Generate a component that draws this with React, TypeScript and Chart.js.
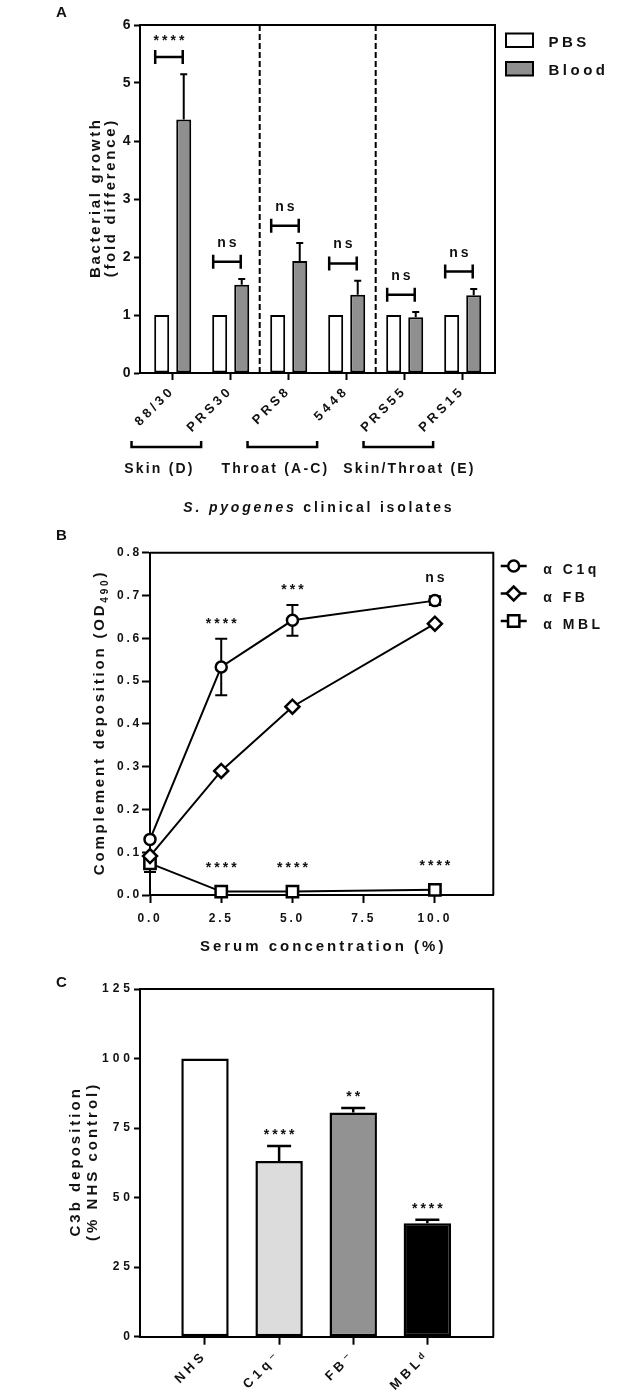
import React, { useEffect, useRef } from "react";
import { Chart, registerables } from "chart.js";

Chart.register(...registerables);

const FAMILY = "'Liberation Sans', Arial, Helvetica, 'DejaVu Sans', sans-serif";

// ---------------- Panel A data ----------------
const A_ISOLATES = ["88/30", "PRS30", "PRS8", "5448", "PRS55", "PRS15"];
const A_SERIES = ["PBS", "Blood"];
const A_PBS = [1, 1, 1, 1, 1, 1];
const A_BLOOD = [4.37, 1.52, 1.93, 1.35, 0.96, 1.34];
const A_BLOOD_SEM = [0.78, 0.1, 0.31, 0.24, 0.09, 0.11];
const A_SIGNIF = ["****", "ns", "ns", "ns", "ns", "ns"];
const A_GROUPS = ["Skin (D)", "Throat (A-C)", "Skin/Throat (E)"];
const A_Y_TICKS = [0, 1, 2, 3, 4, 5, 6];
const A_X_TITLE_ITALIC = "S. pyogenes";
const A_X_TITLE_REST = " clinical isolates";

// ---------------- Panel B data ----------------
const B_SERUM = [0, 2.5, 5, 10];
const B_SERIES = ["α C1q", "α FB", "α MBL"];
const B_C1Q = [0.13, 0.533, 0.642, 0.688];
const B_C1Q_SD = [0.005, 0.066, 0.036, 0.01];
const B_FB = [0.091, 0.29, 0.44, 0.634];
const B_MBL = [0.074, 0.008, 0.008, 0.012];
const B_MBL_SD = [0.02, 0.002, 0.002, 0.002];
const B_SIGNIF_C1Q = ["", "****", "***", "ns"];
const B_SIGNIF_MBL = ["", "****", "****", "****"];
const B_X_TICKS = [0, 2.5, 5, 7.5, 10];
const B_Y_TICKS = [0, 0.1, 0.2, 0.3, 0.4, 0.5, 0.6, 0.7, 0.8];

// ---------------- Panel C data ----------------
const C_SERA = ["NHS", "C1q⁻", "FB⁻", "MBLᵈ"];
const C_C3B = [100, 63.2, 80.6, 40.8];
const C_SEM = [0, 5.4, 1.6, 1.2];
const C_SIGNIF = ["", "****", "**", "****"];
const C_COLORS = ["#ffffff", "#dcdcdc", "#929292", "#000000"];
const C_Y_TICKS = [0, 25, 50, 75, 100, 125];

// ---------------- helpers ----------------
const INK = "#111111";
function font(size: number, italic = false) {
  return `${italic ? "italic " : ""}bold ${size}px ${FAMILY}`;
}
type Run = { t: string; size: number; italic?: boolean; dy?: number };

function drawRuns(ctx: any, runs: Run[], x: number, y: number, align: "left" | "center" | "right", spacing: number) {
  ctx.save();
  ctx.letterSpacing = `${spacing}px`;
  ctx.fillStyle = INK;
  ctx.textAlign = "left";
  ctx.textBaseline = "alphabetic";
  const widths = runs.map((r) => {
    ctx.font = font(r.size, r.italic);
    return ctx.measureText(r.t).width;
  });
  const total = widths.reduce((a, b) => a + b, 0) - spacing;
  let cx = align === "center" ? x - total / 2 : align === "right" ? x - total : x;
  runs.forEach((r, i) => {
    ctx.font = font(r.size, r.italic);
    ctx.fillText(r.t, cx, y + (r.dy || 0));
    cx += widths[i];
  });
  ctx.restore();
}

function drawCentered(ctx: any, text: string, x: number, cy: number, size: number, spacing: number) {
  if (!text) return;
  ctx.save();
  ctx.font = font(size);
  const m = ctx.measureText(text);
  const base = cy + (m.actualBoundingBoxAscent - m.actualBoundingBoxDescent) / 2;
  ctx.restore();
  drawRuns(ctx, [{ t: text, size }], x, base, "center", spacing);
}

function drawRotated(ctx: any, runs: Run[], baselineX: number, centerY: number, spacing: number) {
  ctx.save();
  ctx.translate(baselineX, centerY);
  ctx.rotate(-Math.PI / 2);
  drawRuns(ctx, runs, 0, 0, "center", spacing);
  ctx.restore();
}

function drawBox(ctx: any, ca: any) {
  ctx.save();
  ctx.strokeStyle = "#000";
  ctx.lineWidth = 2;
  ctx.beginPath();
  ctx.moveTo(ca.left, ca.top);
  ctx.lineTo(ca.right, ca.top);
  ctx.lineTo(ca.right, ca.bottom);
  ctx.stroke();
  ctx.restore();
}

function spacingPlugin(px: number) {
  return {
    id: "spacing",
    beforeLayout(chart: any) {
      chart.ctx.letterSpacing = `${px}px`;
    },
    beforeDraw(chart: any) {
      chart.ctx.letterSpacing = `${px}px`;
    },
  };
}

function axisCommon(fontSize: number, tickLength: number, padding: number) {
  return {
    offset: false,
    grid: { display: true, offset: false, drawOnChartArea: false, drawTicks: true, tickLength, tickWidth: 2, tickColor: "#000", color: "#000" },
    border: { display: true, width: 2, color: "#000" },
    ticks: { font: { family: FAMILY, size: fontSize, weight: "bold" }, color: INK, padding },
  };
}

// ---------------- Panel A ----------------
function buildA(): any {
  const plugin = {
    id: "panelA",
    beforeDatasetsDraw(chart: any) {
      const { ctx, chartArea: ca, scales } = chart;
      drawBox(ctx, ca);
      ctx.save();
      ctx.strokeStyle = "#000";
      ctx.lineWidth = 2;
      ctx.setLineDash([6, 3]);
      for (let g = 1; g < A_GROUPS.length; g++) {
        const px = scales.x.getPixelForValue(2 * g - 0.5);
        ctx.beginPath();
        ctx.moveTo(px, ca.top);
        ctx.lineTo(px, ca.bottom);
        ctx.stroke();
      }
      ctx.restore();
    },
    afterDatasetsDraw(chart: any) {
      const { ctx, scales } = chart;
      const y = scales.y;
      const m0 = chart.getDatasetMeta(0);
      const m1 = chart.getDatasetMeta(1);
      ctx.save();
      ctx.strokeStyle = "#000";
      A_BLOOD.forEach((v, i) => {
        const bar = m1.data[i];
        const pbs = m0.data[i];
        const top = y.getPixelForValue(v + A_BLOOD_SEM[i]);
        ctx.lineWidth = 2;
        ctx.beginPath();
        ctx.moveTo(bar.x, bar.y);
        ctx.lineTo(bar.x, top);
        ctx.moveTo(bar.x - 3.5, top);
        ctx.lineTo(bar.x + 3.5, top);
        ctx.stroke();
        const by = y.getPixelForValue(v + A_BLOOD_SEM[i] + 0.3);
        const bl = pbs.x - pbs.width / 2 + 1;
        const br = bar.x - 1;
        ctx.lineWidth = 2.5;
        ctx.beginPath();
        ctx.moveTo(bl, by);
        ctx.lineTo(br, by);
        ctx.moveTo(bl, by - 7);
        ctx.lineTo(bl, by + 7);
        ctx.moveTo(br, by - 7);
        ctx.lineTo(br, by + 7);
        ctx.stroke();
        drawCentered(ctx, A_SIGNIF[i], (bl + br) / 2, by - 19, 14, 3);
      });
      ctx.restore();
    },
    afterDraw(chart: any) {
      const { ctx, chartArea: ca, scales } = chart;
      const x = scales.x;
      const cy = (ca.top + ca.bottom) / 2;
      // y title
      drawRotated(ctx, [{ t: "Bacterial growth", size: 15 }], ca.left - 40, cy, 2.7);
      drawRotated(ctx, [{ t: "(fold difference)", size: 15 }], ca.left - 25.5, cy, 2.7);
      // group brackets
      const shifts = [-8, -8, 10];
      ctx.save();
      ctx.strokeStyle = "#000";
      ctx.lineWidth = 2.5;
      A_GROUPS.forEach((g, k) => {
        const l = x.getPixelForValue(2 * k - 0.71);
        const r = x.getPixelForValue(2 * k + 1 - 0.51);
        const by = ca.bottom + 74;
        ctx.beginPath();
        ctx.moveTo(l, by - 6);
        ctx.lineTo(l, by);
        ctx.lineTo(r, by);
        ctx.lineTo(r, by - 6);
        ctx.stroke();
        drawRuns(ctx, [{ t: g, size: 14 }], (l + r) / 2 + shifts[k], ca.bottom + 100, "center", 2.2);
      });
      ctx.restore();
      // x title
      drawRuns(
        ctx,
        [
          { t: A_X_TITLE_ITALIC, size: 14, italic: true },
          { t: A_X_TITLE_REST, size: 14 },
        ],
        (ca.left + ca.right) / 2,
        ca.bottom + 138.5,
        "center",
        2.8
      );
      // legend
      const colors = ["#ffffff", "#8f8f8f"];
      ctx.save();
      A_SERIES.forEach((s, i) => {
        const top = ca.top + 8.5 + i * 28.5;
        ctx.fillStyle = colors[i];
        ctx.strokeStyle = "#000";
        ctx.lineWidth = 2;
        ctx.fillRect(ca.right + 11, top, 27, 13.5);
        ctx.strokeRect(ca.right + 11, top, 27, 13.5);
        drawRuns(ctx, [{ t: s, size: 15 }], ca.right + 53.5, top + 13, "left", 3.5);
      });
      ctx.restore();
      // panel letter
      drawRuns(ctx, [{ t: "A", size: 15 }], 56, 17, "left", 0);
    },
  };
  const ax = axisCommon(13, 7, 3);
  const ay = axisCommon(14, 6, 0);
  return {
    type: "bar",
    data: {
      datasets: [
        {
          label: A_SERIES[0],
          data: A_PBS.map((v, i) => ({ x: i, y: v })),
          backgroundColor: "#ffffff",
          borderColor: "#000",
          borderWidth: 2,
          borderSkipped: false,
          categoryPercentage: 0.76,
          barPercentage: 0.68,
        },
        {
          label: A_SERIES[1],
          data: A_BLOOD.map((v, i) => ({ x: i, y: v })),
          backgroundColor: "#8f8f8f",
          borderColor: "#000",
          borderWidth: 2,
          borderSkipped: false,
          categoryPercentage: 0.76,
          barPercentage: 0.68,
        },
      ],
    },
    options: {
      responsive: false,
      animation: false,
      events: [],
      layout: { padding: { left: 0, top: 25, right: 149, bottom: 0 } },
      plugins: { legend: { display: false }, tooltip: { enabled: false } },
      scales: {
        x: {
          ...ax,
          type: "linear",
          min: -0.564,
          max: 5.557,
          afterBuildTicks: (s: any) => {
            s.ticks = A_ISOLATES.map((_, i) => ({ value: i }));
          },
          ticks: { ...ax.ticks, minRotation: 45, maxRotation: 45, autoSkip: false, callback: (v: any) => A_ISOLATES[v] ?? "" },
          afterFit: (s: any) => {
            s.height = 147;
          },
        },
        y: {
          ...ay,
          min: 0,
          max: 6,
          afterBuildTicks: (s: any) => {
            s.ticks = A_Y_TICKS.map((v) => ({ value: v }));
          },
          ticks: { ...ay.ticks, callback: (v: any) => String(v) },
          afterFit: (s: any) => {
            s.width = 140;
          },
        },
      },
    },
    plugins: [spacingPlugin(3.5), plugin],
  };
}

// ---------------- Panel B ----------------
function drawMarker(ctx: any, style: string, x: number, y: number, r: number) {
  ctx.beginPath();
  if (style === "circle") {
    ctx.arc(x, y, r, 0, Math.PI * 2);
  } else if (style === "rectRot") {
    ctx.moveTo(x - r, y);
    ctx.lineTo(x, y - r);
    ctx.lineTo(x + r, y);
    ctx.lineTo(x, y + r);
    ctx.closePath();
  } else {
    const h = r * Math.SQRT1_2;
    ctx.rect(x - h, y - h, 2 * h, 2 * h);
  }
  ctx.fill();
  ctx.stroke();
}

function buildB(): any {
  const styles = ["circle", "rectRot", "rect"];
  const radii = [5.5, 7, 8];
  const values = [B_C1Q, B_FB, B_MBL];
  const plugin = {
    id: "panelB",
    beforeDatasetsDraw(chart: any) {
      const { ctx, chartArea: ca, scales } = chart;
      drawBox(ctx, ca);
      const y = scales.y;
      ctx.save();
      ctx.strokeStyle = "#000";
      ctx.lineWidth = 2;
      const errs: [number[], number[], number][] = [
        [B_C1Q, B_C1Q_SD, 0],
        [B_MBL, B_MBL_SD, 2],
      ];
      errs.forEach(([vals, sd, di]) => {
        const meta = chart.getDatasetMeta(di);
        vals.forEach((v, i) => {
          const p = meta.data[i];
          const t = y.getPixelForValue(v + sd[i]);
          const b = y.getPixelForValue(v - sd[i]);
          ctx.beginPath();
          ctx.moveTo(p.x, t);
          ctx.lineTo(p.x, b);
          ctx.moveTo(p.x - 6, t);
          ctx.lineTo(p.x + 6, t);
          ctx.moveTo(p.x - 6, b);
          ctx.lineTo(p.x + 6, b);
          ctx.stroke();
        });
      });
      ctx.restore();
    },
    afterDraw(chart: any) {
      const { ctx, chartArea: ca, scales } = chart;
      const x = scales.x;
      const y = scales.y;
      // significance
      B_SERUM.forEach((c, i) => {
        const px = x.getPixelForValue(c);
        drawCentered(ctx, B_SIGNIF_C1Q[i], px, y.getPixelForValue(B_C1Q[i] + B_C1Q_SD[i]) - 18, 14, 3);
        drawCentered(ctx, B_SIGNIF_MBL[i], px, y.getPixelForValue(B_MBL[i]) - 27, 14, 3);
      });
      const cy = (ca.top + ca.bottom) / 2;
      drawRotated(
        ctx,
        [
          { t: "Complement deposition (OD", size: 15 },
          { t: "490", size: 10, dy: 4 },
          { t: ")", size: 15 },
        ],
        ca.left - 46.5,
        cy,
        2.8
      );
      drawRuns(ctx, [{ t: "Serum concentration (%)", size: 15 }], (ca.left + ca.right) / 2, ca.bottom + 56, "center", 3);
      // legend
      ctx.save();
      B_SERIES.forEach((s, i) => {
        const my = ca.top + 13.3 + i * 27.5;
        ctx.strokeStyle = "#000";
        ctx.lineWidth = 2.5;
        ctx.beginPath();
        ctx.moveTo(ca.right + 7.4, my);
        ctx.lineTo(ca.right + 33.4, my);
        ctx.stroke();
        ctx.fillStyle = "#fff";
        drawMarker(ctx, styles[i], ca.right + 20.4, my, radii[i]);
        drawRuns(ctx, [{ t: s, size: 14 }], ca.right + 50, my + 8, "left", 3.5);
      });
      ctx.restore();
      drawRuns(ctx, [{ t: "B", size: 15 }], 56, 20, "left", 0);
    },
  };
  const ax = axisCommon(12, 8, 8);
  const ay = axisCommon(12, 8, 0);
  return {
    type: "line",
    data: {
      datasets: B_SERIES.map((s, k) => ({
        label: s,
        data: B_SERUM.map((c, i) => ({ x: c, y: values[k][i] })),
        borderColor: "#000",
        borderWidth: 2,
        fill: false,
        tension: 0,
        clip: false,
        pointStyle: styles[k],
        pointRadius: radii[k],
        pointBorderWidth: 2.5,
        pointBackgroundColor: "#fff",
        pointBorderColor: "#000",
      })),
    },
    options: {
      responsive: false,
      animation: false,
      events: [],
      layout: { padding: { left: 0, top: 32.7, right: 150.7, bottom: 0 } },
      plugins: { legend: { display: false }, tooltip: { enabled: false } },
      scales: {
        x: {
          ...ax,
          type: "linear",
          min: 0,
          max: 12.05,
          afterBuildTicks: (s: any) => {
            s.ticks = B_X_TICKS.map((v) => ({ value: v }));
          },
          ticks: { ...ax.ticks, maxRotation: 0, autoSkip: false, callback: (v: any) => Number(v).toFixed(1) },
          afterFit: (s: any) => {
            s.height = 70;
          },
        },
        y: {
          ...ay,
          min: 0,
          max: 0.8,
          afterBuildTicks: (s: any) => {
            s.ticks = B_Y_TICKS.map((v) => ({ value: v }));
          },
          ticks: { ...ay.ticks, callback: (v: any) => Number(v).toFixed(1) },
          afterFit: (s: any) => {
            s.width = 150;
          },
        },
      },
    },
    plugins: [spacingPlugin(2.8), plugin],
  };
}

// ---------------- Panel C ----------------
function buildC(): any {
  const plugin = {
    id: "panelC",
    beforeDatasetsDraw(chart: any) {
      drawBox(chart.ctx, chart.chartArea);
    },
    afterDatasetsDraw(chart: any) {
      const { ctx, scales } = chart;
      const y = scales.y;
      const meta = chart.getDatasetMeta(0);
      ctx.save();
      ctx.strokeStyle = "#000";
      ctx.lineWidth = 2.5;
      C_C3B.forEach((v, i) => {
        const bar = meta.data[i];
        const t = y.getPixelForValue(v + C_SEM[i]);
        if (C_SEM[i] > 0) {
          ctx.beginPath();
          ctx.moveTo(bar.x, bar.y);
          ctx.lineTo(bar.x, t);
          ctx.moveTo(bar.x - 12, t);
          ctx.lineTo(bar.x + 12, t);
          ctx.stroke();
        }
        drawCentered(ctx, C_SIGNIF[i], bar.x, t - 14, 14, 3);
      });
      ctx.restore();
    },
    afterDraw(chart: any) {
      const { ctx, chartArea: ca } = chart;
      const cy = (ca.top + ca.bottom) / 2;
      drawRotated(ctx, [{ t: "C3b deposition", size: 15 }], ca.left - 60, cy, 3);
      drawRotated(ctx, [{ t: "(% NHS control)", size: 15 }], ca.left - 43, cy, 3);
      drawRuns(ctx, [{ t: "C", size: 15 }], 56, 22, "left", 0);
    },
  };
  const ax = axisCommon(13, 8, 3);
  const ay = axisCommon(12, 6, 0);
  return {
    type: "bar",
    data: {
      datasets: [
        {
          label: "C3b deposition",
          data: C_C3B.map((v, i) => ({ x: i, y: v })),
          backgroundColor: C_COLORS,
          borderColor: "#000",
          borderWidth: 2.5,
          borderSkipped: false,
          categoryPercentage: 1,
          barPercentage: 0.64,
        },
      ],
    },
    options: {
      responsive: false,
      animation: false,
      events: [],
      layout: { padding: { left: 0, top: 24, right: 150.7, bottom: 0 } },
      plugins: { legend: { display: false }, tooltip: { enabled: false } },
      scales: {
        x: {
          ...ax,
          type: "linear",
          min: -0.877,
          max: 3.89,
          afterBuildTicks: (s: any) => {
            s.ticks = C_SERA.map((_, i) => ({ value: i }));
          },
          ticks: { ...ax.ticks, minRotation: 45, maxRotation: 45, autoSkip: false, callback: (v: any) => C_SERA[v] ?? "" },
          afterFit: (s: any) => {
            s.height = 63.3;
          },
        },
        y: {
          ...ay,
          min: 0,
          max: 125,
          afterBuildTicks: (s: any) => {
            s.ticks = C_Y_TICKS.map((v) => ({ value: v }));
          },
          ticks: { ...ay.ticks, callback: (v: any) => String(v) },
          afterFit: (s: any) => {
            s.width = 140;
          },
        },
      },
    },
    plugins: [spacingPlugin(4), plugin],
  };
}

function Panel({ top, height, build }: { top: number; height: number; build: () => any }) {
  const ref = useRef<HTMLCanvasElement>(null);
  useEffect(() => {
    const chart = new Chart(ref.current as HTMLCanvasElement, build());
    return () => chart.destroy();
  }, []);
  return (
    <canvas
      ref={ref}
      width={644}
      height={height}
      style={{ position: "absolute", left: 0, top, width: 644, height, display: "block" }}
    />
  );
}

export default function App() {
  return (
    <div style={{ position: "absolute", left: 0, top: 0, width: 644, height: 1400, background: "#ffffff", overflow: "hidden" }}>
      <Panel top={0} height={520} build={buildA} />
      <Panel top={520} height={445} build={buildB} />
      <Panel top={965} height={435} build={buildC} />
    </div>
  );
}
